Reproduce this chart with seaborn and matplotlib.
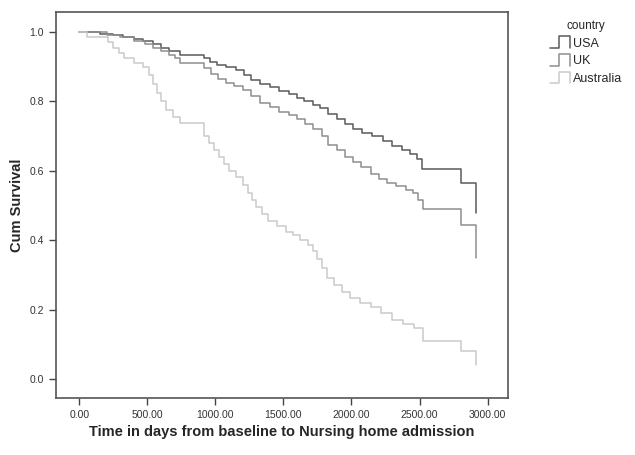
import pandas as pd
import matplotlib
matplotlib.use("Agg")
import matplotlib.pyplot as plt
import seaborn as sns
from matplotlib.lines import Line2D
from matplotlib.legend_handler import HandlerBase

# step points (days, cumulative survival)
usa_t = [0, 150, 250, 320, 400, 470, 540, 600, 660, 740,
         920, 960, 1010, 1080, 1150, 1210, 1260, 1330, 1400, 1470,
         1540, 1600, 1650, 1720, 1770, 1830, 1890, 1950, 2010, 2080,
         2150, 2230, 2300, 2370, 2430, 2480, 2520, 2805, 2912]
usa_s = [1.0, 0.995, 0.99, 0.985, 0.98, 0.975, 0.965, 0.955, 0.945, 0.934,
         0.924, 0.914, 0.905, 0.898, 0.89, 0.875, 0.862, 0.85, 0.84, 0.83,
         0.82, 0.81, 0.80, 0.79, 0.78, 0.765, 0.75, 0.735, 0.72, 0.71,
         0.70, 0.685, 0.672, 0.66, 0.648, 0.635, 0.604, 0.565, 0.478]

uk_t = [0, 200, 300, 400, 480, 540, 600, 660, 700, 740,
        920, 970, 1020, 1080, 1140, 1200, 1260, 1330, 1400, 1470,
        1540, 1600, 1660, 1720, 1780, 1830, 1890, 1950, 2010, 2070,
        2140, 2200, 2260, 2330, 2400, 2450, 2490, 2523, 2805, 2912]
uk_s = [1.0, 0.99, 0.985, 0.975, 0.965, 0.955, 0.945, 0.935, 0.925, 0.91,
        0.895, 0.88, 0.865, 0.853, 0.843, 0.833, 0.815, 0.795, 0.785, 0.77,
        0.76, 0.748, 0.735, 0.72, 0.70, 0.674, 0.66, 0.64, 0.625, 0.61,
        0.59, 0.575, 0.565, 0.555, 0.545, 0.535, 0.515, 0.489, 0.445, 0.35]

aus_t = [0, 60, 210, 250, 290, 330, 400, 470, 510, 540,
         570, 600, 640, 690, 740, 920, 950, 990, 1030, 1060,
         1100, 1150, 1200, 1240, 1270, 1300, 1340, 1390, 1450, 1520,
         1570, 1620, 1680, 1720, 1750, 1780, 1820, 1870, 1930, 1990,
         2060, 2140, 2220, 2300, 2380, 2460, 2523, 2805, 2912]
aus_s = [1.0, 0.985, 0.97, 0.955, 0.94, 0.925, 0.91, 0.9, 0.875, 0.85,
         0.825, 0.8, 0.775, 0.755, 0.737, 0.70, 0.68, 0.66, 0.64, 0.62,
         0.60, 0.582, 0.56, 0.535, 0.515, 0.495, 0.475, 0.455, 0.44, 0.425,
         0.415, 0.40, 0.385, 0.37, 0.345, 0.32, 0.29, 0.27, 0.25, 0.233,
         0.22, 0.208, 0.19, 0.17, 0.158, 0.147, 0.109, 0.08, 0.04]

countries = ["USA", "UK", "Australia"]
colors = {"USA": "#5a5a5a", "UK": "#8e8e8e", "Australia": "#cacaca"}


class StepHandler(HandlerBase):
    # little step-shaped legend key like the SPSS output
    def create_artists(self, legend, orig_handle, xdescent, ydescent,
                       width, height, fontsize, trans):
        x0 = -xdescent
        y0 = -ydescent - 0.15 * height
        xs = [x0, x0 + 0.45 * width, x0 + 0.45 * width, x0 + width, x0 + width]
        ys = [y0, y0, y0 + 1.35 * height, y0 + 1.35 * height, y0]
        ln = Line2D(xs, ys, color=orig_handle.get_color(), lw=1.1)
        ln.set_transform(trans)
        return [ln]


def main():
    df = pd.concat([
        pd.DataFrame({"time": usa_t, "surv": usa_s, "country": "USA"}),
        pd.DataFrame({"time": uk_t, "surv": uk_s, "country": "UK"}),
        pd.DataFrame({"time": aus_t, "surv": aus_s, "country": "Australia"}),
    ], ignore_index=True)

    sns.set_style("ticks")
    plt.rcParams["font.family"] = ["Liberation Sans", "DejaVu Sans"]

    fig = plt.figure(figsize=(6.35, 4.55), dpi=100)
    ax = fig.add_axes([0.088, 0.125, 0.712, 0.849])

    sns.lineplot(data=df, x="time", y="surv", hue="country",
                 hue_order=countries, palette=colors, estimator=None,
                 sort=False, drawstyle="steps-post", lw=1.1, ax=ax,
                 legend=False)

    ax.set_xlim(-172, 3150)
    ax.set_ylim(-0.055, 1.058)
    ax.set_xticks([0, 500, 1000, 1500, 2000, 2500, 3000])
    ax.set_xticklabels([f"{v:.2f}" for v in ax.get_xticks()])
    ax.set_yticks([0.0, 0.2, 0.4, 0.6, 0.8, 1.0])
    ax.set_yticklabels([f"{v:.1f}" for v in ax.get_yticks()])
    ax.tick_params(labelsize=7.5, length=5, width=1, color="#444444",
                   labelcolor="#333333")
    for sp in ax.spines.values():
        sp.set_color("#555555")
        sp.set_linewidth(1.2)

    ax.set_xlabel("Time in days from baseline to Nursing home admission",
                  fontsize=10.5, fontweight="bold", labelpad=4)
    ax.set_ylabel("Cum Survival", fontsize=10.5, fontweight="bold",
                  labelpad=4)

    handles = [Line2D([], [], color=colors[c]) for c in countries]
    fig.legend(handles, countries, title="country",
               handler_map={Line2D: StepHandler()},
               loc="upper left", bbox_to_anchor=(0.853, 0.975),
               frameon=False, fontsize=9, title_fontsize=8.5,
               handlelength=1.6, handletextpad=0.2, labelspacing=0.45,
               borderpad=0.2)

    fig.savefig("out.png", dpi=100)


if __name__ == "__main__":
    main()
